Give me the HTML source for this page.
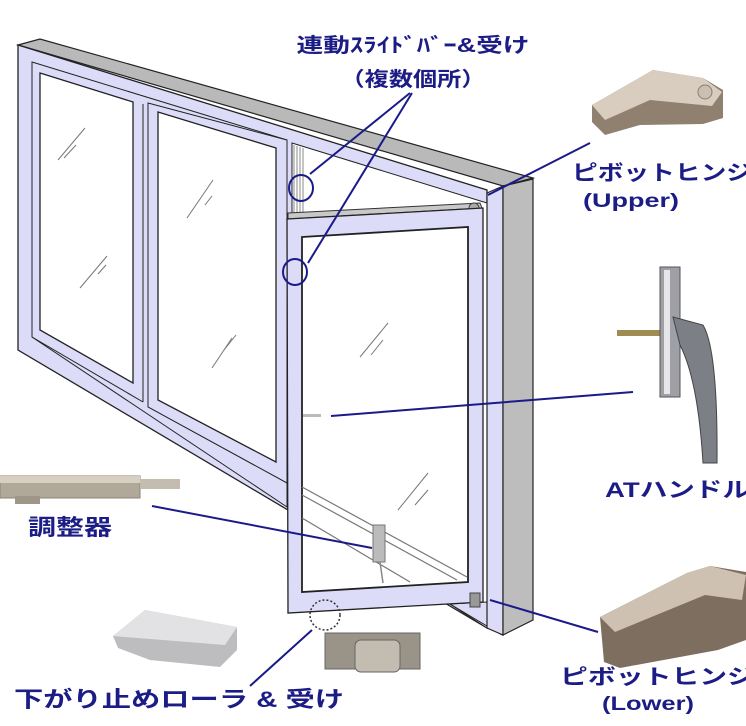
<!DOCTYPE html>
<html><head><meta charset="utf-8"><style>
html,body{margin:0;padding:0;background:#fff;width:746px;height:726px;overflow:hidden}
svg{display:block}
.t{font-family:"Liberation Sans","Noto Sans CJK JP",sans-serif;font-weight:bold;fill:#1c1c86}
</style></head><body>
<svg width="746" height="726" viewBox="0 0 746 726" xmlns="http://www.w3.org/2000/svg">
<!-- top face of frame -->
<polygon points="18,45 40,39 533,178 503,186" fill="#b9b9b9" stroke="#222" stroke-width="1.2"/>
<!-- frame front plane -->
<polygon points="18,45 487,190 487,628 18,350" fill="#dcdcf8" stroke="#222" stroke-width="1.3"/>
<!-- inner frame opening line -->
<polygon points="32,62 287,140 287,507 32,337" fill="#dcdcf8" stroke="#222" stroke-width="1"/>
<!-- panel 1 glass -->
<polygon points="40,73 133,102 133,383 40,330" fill="#fff" stroke="#222" stroke-width="1.3"/>
<line x1="143" y1="104" x2="143" y2="402" stroke="#222" stroke-width="1"/>
<line x1="32" y1="337" x2="143" y2="402" stroke="#222" stroke-width="1"/>
<!-- panel 2 -->
<polygon points="148,103 287,140 287,483 148,407" fill="#dcdcf8" stroke="#222" stroke-width="1"/>
<polygon points="158,112 276,148 276,462 158,400" fill="#fff" stroke="#222" stroke-width="1.3"/>
<!-- opening behind door -->
<polygon points="292,143 487,203 487,625 292,510" fill="#fff" stroke="#222" stroke-width="1"/>
<!-- mullion stripes -->
<g stroke="#888" stroke-width="1"><line x1="294" y1="145" x2="294" y2="215"/><line x1="297" y1="146" x2="297" y2="215"/><line x1="300" y1="147" x2="300" y2="215"/><line x1="303" y1="148" x2="303" y2="215"/></g>
<!-- frame bottom lines seen left -->
<polygon points="450,604 487,602 487,628" fill="#dcdcf8" stroke="#222" stroke-width="1"/>
<!-- door top bar -->
<polygon points="288,213 480,203 482,208 288,219" fill="#c8c8c8" stroke="#333" stroke-width="1"/>
<circle cx="474" cy="208" r="5" fill="#aaa" stroke="#444"/>
<!-- door -->
<polygon points="287,219 483,208 483,602 288,613" fill="#dcdcf8" stroke="#222" stroke-width="1.3"/>
<polygon points="302,237 468,227 468,582 302,592" fill="#fff" stroke="#222" stroke-width="1.8"/>
<!-- lines through glass -->
<g stroke="#777" stroke-width="1.2">
<line x1="302" y1="487" x2="467" y2="577"/><line x1="302" y1="495" x2="457" y2="580"/><line x1="302" y1="518" x2="410" y2="582"/>
</g>
<!-- glass marks -->
<g stroke="#777" stroke-width="1">
<line x1="58" y1="160" x2="85" y2="128"/><line x1="64" y1="158" x2="76" y2="145"/>
<line x1="80" y1="288" x2="107" y2="256"/><line x1="98" y1="274" x2="106" y2="265"/>
<line x1="187" y1="218" x2="213" y2="180"/><line x1="205" y1="205" x2="212" y2="196"/>
<line x1="212" y1="368" x2="232" y2="338"/><line x1="224" y1="350" x2="236" y2="335"/>
<line x1="360" y1="357" x2="388" y2="323"/><line x1="371" y1="355" x2="383" y2="340"/>
<line x1="398" y1="510" x2="428" y2="473"/><line x1="415" y1="505" x2="428" y2="490"/>
</g>
<!-- handle marker & adjuster -->
<rect x="303" y="414" width="18" height="3" fill="#bbb"/>
<rect x="373" y="525" width="12" height="37" fill="#bbb" stroke="#777"/>
<line x1="380" y1="562" x2="383" y2="583" stroke="#888" stroke-width="1.5"/>
<!-- lower pivot block -->
<rect x="470" y="593" width="10" height="14" fill="#999" stroke="#444"/>
<line x1="450" y1="604" x2="502" y2="635" stroke="#222" stroke-width="1"/>
<!-- column -->
<polygon points="487,193 503,186 503,635 487,628" fill="#dcdcf8" stroke="#222" stroke-width="1.2"/>
<polygon points="503,186 533,179 533,620 503,635" fill="#bdbdbd" stroke="#222" stroke-width="1.2"/>
<!-- blue circles & leaders -->
<g stroke="#1a1a8a" stroke-width="2" fill="none">
<ellipse cx="301" cy="188" rx="12" ry="13"/>
<ellipse cx="295" cy="272" rx="12" ry="13"/>
<line x1="410" y1="93" x2="310" y2="174"/>
<line x1="412" y1="93" x2="308" y2="263"/>
<line x1="590" y1="143" x2="488" y2="195"/>
<line x1="633" y1="392" x2="331" y2="416"/>
<line x1="152" y1="506" x2="372" y2="548"/>
<line x1="490" y1="600" x2="598" y2="632"/>
<line x1="312" y1="630" x2="250" y2="686"/>
</g>
<circle cx="325" cy="615" r="15" fill="none" stroke="#333" stroke-width="1.5" stroke-dasharray="2,2"/>
<!-- photos: upper hinge -->
<polygon points="592,105 653,70 703,78 723,90 723,118 703,124 640,125 605,135 592,122" fill="#8f8070"/>
<polygon points="592,105 653,70 703,78 722,92 712,106 650,100 605,120" fill="#d9cdbf"/>
<circle cx="705" cy="92" r="7" fill="#cbbfb1" stroke="#8a7d70"/>
<!-- handle -->
<rect x="617" y="330" width="43" height="6" fill="#a08c50"/>
<rect x="660" y="267" width="20" height="130" fill="#9ea0a6" stroke="#555"/>
<rect x="664" y="270" width="6" height="124" fill="#e6e6ea"/>
<path d="M673,317 L703,325 Q718,350 717,463 L703,463 Q698,380 680,345 Z" fill="#7c7f86" stroke="#444"/>
<!-- lower hinge -->
<polygon points="600,617 687,573 710,566 746,572 746,640 718,650 620,668 604,662" fill="#7e6e60"/>
<polygon points="600,617 687,573 710,566 746,575 742,600 705,595 615,632" fill="#cfc1b2"/>
<!-- adjuster -->
<rect x="0" y="476" width="140" height="22" fill="#b0a898" stroke="#8a8274"/>
<rect x="0" y="476" width="140" height="7" fill="#d6cfc2"/>
<rect x="140" y="479" width="40" height="10" fill="#c4bcae"/>
<rect x="15" y="496" width="25" height="8" fill="#9e9686"/>
<!-- roller block -->
<polygon points="113,636 145,610 237,627 237,650 220,667 150,660 118,648" fill="#bdbdc0"/>
<polygon points="113,636 145,610 237,627 225,645" fill="#e2e2e4"/>
<!-- roller -->
<rect x="325" y="633" width="95" height="36" fill="#9a9388" stroke="#666"/>
<rect x="355" y="640" width="45" height="32" rx="6" fill="#c2bcb1" stroke="#666"/>
<!-- texts -->
<text class="t" x="413" y="52" font-size="20" text-anchor="middle" textLength="233" lengthAdjust="spacingAndGlyphs">連動ｽﾗｲﾄﾞﾊﾞｰ&amp;受け</text>
<text class="t" x="413" y="86" font-size="20" text-anchor="middle" textLength="145" lengthAdjust="spacingAndGlyphs">（複数個所）</text>
<text class="t" x="572" y="180" font-size="21" textLength="180" lengthAdjust="spacingAndGlyphs">ピボットヒンジ</text>
<text class="t" x="583" y="207" font-size="19" textLength="96" lengthAdjust="spacingAndGlyphs">(Upper)</text>
<text class="t" x="605" y="497" font-size="21" textLength="145" lengthAdjust="spacingAndGlyphs">ATハンドル</text>
<text class="t" x="28" y="535" font-size="22" textLength="84" lengthAdjust="spacingAndGlyphs">調整器</text>
<text class="t" x="560" y="684" font-size="21" textLength="195" lengthAdjust="spacingAndGlyphs">ピボットヒンジ</text>
<text class="t" x="602" y="710" font-size="19" textLength="92" lengthAdjust="spacingAndGlyphs">(Lower)</text>
<text class="t" x="14" y="707" font-size="22" textLength="330" lengthAdjust="spacingAndGlyphs">下がり止めローラ &amp; 受け</text>
</svg>
</body></html>
